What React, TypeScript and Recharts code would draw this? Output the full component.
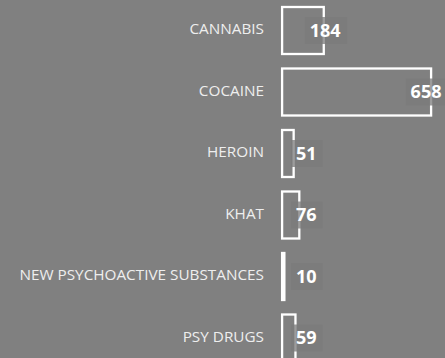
import { Bar, BarChart, LabelList, XAxis, YAxis } from "recharts";

const categories = [
  "CANNABIS",
  "COCAINE",
  "HEROIN",
  "KHAT",
  "NEW PSYCHOACTIVE SUBSTANCES",
  "PSY DRUGS",
];
const counts = [184, 658, 51, 76, 10, 59];

const rows = categories.map((name, i) => ({ name, count: counts[i] }));

const BG = "#808080";

function BracketBar(props: any) {
  const { x, y, width, height } = props;
  return (
    <rect
      x={x + 1.1}
      y={y}
      width={Math.max(width, 0.5)}
      height={height}
      fill="none"
      stroke="#ffffff"
      strokeWidth={2.3}
    />
  );
}

function ValueLabel(props: any) {
  const { x, y, width, height, value } = props;
  const text = String(value);
  const tw = text.length * 10.8;
  const right = x + width;
  let left = Math.max(right - 13, x + 15);
  if (left + tw > 443) left = 443 - tw;
  const cy = y + height / 2;
  return (
    <g>
      <rect
        x={left - 5}
        y={cy - 13.5}
        width={tw + 10}
        height={27}
        fill="#7b7b7b"
        fillOpacity={0.75}
      />
      <text
        x={left}
        y={cy}
        dy="0.36em"
        fill="#ffffff"
        fontFamily="'Open Sans', sans-serif"
        fontWeight={700}
        fontSize={18}
      >
        {text}
      </text>
    </g>
  );
}

function CategoryTick(props: any) {
  const { x, y, payload } = props;
  return (
    <text
      x={x - 17}
      y={y - 1.8}
      dy="0.36em"
      textAnchor="end"
      fill="#eeeeee"
      fontFamily="'Open Sans', sans-serif"
      fontSize={15.3}
    >
      {payload.value}
    </text>
  );
}

export default function App() {
  return (
    <div
      style={{
        position: "fixed",
        left: 0,
        top: 0,
        width: 445,
        height: 358,
        overflow: "hidden",
        background: BG,
      }}
    >
      <BarChart
        width={445}
        height={369}
        data={rows}
        layout="vertical"
        margin={{ top: 0, right: 15, bottom: 0, left: 0 }}
      >
        <XAxis type="number" domain={[0, 658]} hide />
        <YAxis
          type="category"
          dataKey="name"
          width={281}
          axisLine={false}
          tickLine={false}
          tickSize={0}
          tickMargin={0}
          tick={<CategoryTick />}
          interval={0}
        />
        <Bar
          dataKey="count"
          barSize={47}
          shape={<BracketBar />}
          isAnimationActive={false}
        >
          <LabelList dataKey="count" content={<ValueLabel />} />
        </Bar>
      </BarChart>
    </div>
  );
}
